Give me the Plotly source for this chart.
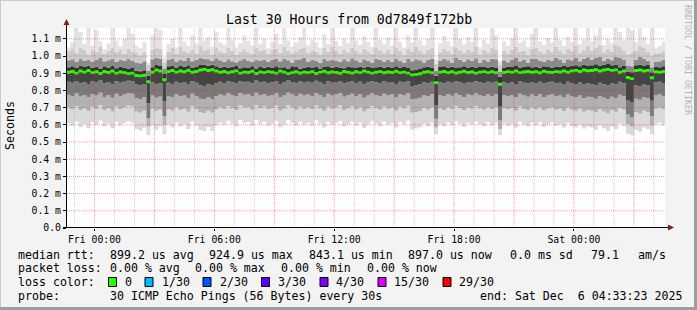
import plotly.graph_objects as go
import pandas as pd

# ---------------- data (microseconds) ----------------
title_text = "Last 30 Hours from 0d7849f172bb"
col_start = "2025-12-04 22:36:00"
step_minutes = 12
x_start = "2025-12-04 22:37:30"
x_end = "2025-12-06 04:33:23"
tick_times = ["2025-12-05 00:00", "2025-12-05 06:00", "2025-12-05 12:00",
              "2025-12-05 18:00", "2025-12-06 00:00"]
y_tick_vals = [0.0, 0.1, 0.2, 0.3, 0.4, 0.5, 0.6, 0.7, 0.8, 0.9, 1.0, 1.1]
y_tick_text = ["0.0", "0.1 m", "0.2 m", "0.3 m", "0.4 m", "0.5 m", "0.6 m",
               "0.7 m", "0.8 m", "0.9 m", "1.0 m", "1.1 m"]

med_us = [905, 910, 900, 912, 906, 915, 903, 908, 898, 910, 904, 912, 900, 907, 903, 897, 900, 886, 884, 888, 850, 905, 918, 912, 862,
          910, 915, 906, 912, 908, 917, 905, 910, 918, 922, 915, 920, 912, 905, 910, 902, 908, 913, 900, 906, 904, 911, 898, 907, 903,
          909, 905, 900, 912, 906, 897, 903, 908, 901, 906, 903, 909, 898, 906, 911, 902, 907, 904, 899, 910, 905, 901, 908, 903, 912,
          906, 900, 905, 909, 902, 907, 904, 911, 903, 906, 900, 890, 893, 896, 905, 908, 902, 845, 906, 910, 903, 908, 901, 905, 911,
          904, 907, 900, 906, 909, 903, 908, 902, 835, 904, 909, 906, 912, 903, 907, 910, 905, 908, 902, 911, 906, 904, 909, 907, 912,
          905, 913, 916, 910, 918, 914, 915, 920, 912, 918, 922, 916, 919, 905, 912, 875, 868, 915, 918, 912, 916, 873, 908, 905, 910]

mx_us = [1050, 1080, 1163, 1140, 1070, 1163, 1060, 1150, 1085, 1040, 1075, 1163, 1090, 1055, 1100, 1163, 1130, 1060, 1045, 1080, 960, 1120, 1163, 1150, 990,
         1070, 1100, 1050, 1163, 1085, 1060, 1120, 1075, 1163, 1090, 1110, 1055, 1140, 1080, 1065, 1163, 1095, 1050, 1075, 1120, 1088, 1060, 1163, 1072, 1100,
         1045, 1085, 1130, 1068, 1163, 1090, 1055, 1078, 1110, 1163, 1062, 1095, 1080, 1050, 1125, 1070, 1163, 1088, 1058, 1102, 1075, 1163, 1090, 1066, 1115,
         1080, 1052, 1163, 1095, 1070, 1108, 1060, 1163, 1085, 1048, 1120, 1078, 1163, 1092, 1062, 1100, 1163, 980, 1074, 1118, 1086, 1056, 1163, 1098, 1068,
         1110, 1082, 1163, 1050, 1094, 1073, 1163, 1120, 970, 1088, 1060, 1102, 1163, 1076, 1090, 1052, 1130, 1163, 1084, 1066, 1105, 1078, 1163, 1092, 1058,
         1112, 1080, 1163, 1070, 1098, 1163, 1086, 1120, 1163, 1064, 1100, 1075, 1163, 1140, 1090, 1163, 1150, 1080, 1163, 1110, 1070, 1163, 1045, 1060, 1085]

h3_us = [1030, 1045, 1020, 1050, 1035, 1010, 1040, 1025, 1055, 1015, 1030, 1048, 1022, 1038, 1012, 1044, 1028, 1018, 1005, 1026, 950, 1035, 1050, 1042, 960,
         1024, 1046, 1012, 1052, 1030, 1020, 1040, 1016, 1058, 1034, 1044, 1010, 1050, 1028, 1018, 1046, 1032, 1008, 1026, 1040, 1022, 1014, 1048, 1030, 1038,
         1012, 1036, 1044, 1020, 1054, 1030, 1016, 1028, 1042, 1050, 1018, 1034, 1026, 1010, 1046, 1024, 1052, 1032, 1014, 1040, 1022, 1048, 1030, 1016, 1042,
         1028, 1012, 1050, 1034, 1020, 1038, 1014, 1046, 1030, 1008, 1042, 1024, 1052, 1032, 1016, 1036, 1048, 955, 1022, 1044, 1030, 1012, 1050, 1034, 1018,
         1040, 1026, 1052, 1010, 1036, 1022, 1048, 1040, 950, 1030, 1014, 1038, 1054, 1024, 1032, 1008, 1044, 1050, 1028, 1016, 1040, 1026, 1056, 1034, 1012,
         1042, 1030, 1058, 1020, 1036, 1060, 1032, 1048, 1062, 1022, 1040, 1026, 1064, 1056, 1034, 1010, 1020, 1030, 1060, 1046, 1024, 1000, 1012, 1018, 1030]

h2_us = [975, 982, 968, 985, 972, 978, 966, 980, 988, 970, 976, 984, 965, 979, 971, 983, 974, 962, 958, 969, 915, 981, 990, 986, 925,
         977, 985, 968, 980, 973, 988, 970, 978, 990, 984, 982, 972, 987, 975, 966, 981, 970, 964, 976, 983, 971, 967, 979, 974, 980,
         966, 978, 984, 970, 986, 975, 963, 977, 982, 988, 968, 980, 973, 961, 985, 971, 979, 974, 965, 982, 970, 987, 976, 964, 981,
         973, 962, 984, 978, 967, 980, 965, 986, 972, 960, 983, 970, 982, 975, 963, 979, 985, 915, 971, 984, 976, 962, 988, 978, 966,
         981, 972, 987, 961, 978, 968, 984, 982, 910, 975, 964, 980, 989, 970, 977, 960, 983, 986, 974, 966, 980, 971, 990, 978, 963,
         982, 976, 991, 969, 984, 993, 978, 988, 995, 972, 986, 975, 996, 992, 980, 945, 940, 977, 994, 985, 973, 935, 966, 970, 980]

h1_us = [935, 940, 930, 942, 936, 944, 932, 938, 928, 940, 934, 943, 929, 937, 933, 927, 931, 915, 912, 918, 885, 935, 948, 942, 895,
         940, 945, 934, 942, 937, 947, 933, 939, 948, 951, 944, 949, 941, 934, 939, 931, 937, 942, 929, 935, 933, 940, 927, 936, 932,
         938, 934, 941, 930, 935, 928, 941, 936, 926, 932, 937, 933, 939, 928, 936, 940, 932, 937, 934, 929, 939, 935, 931, 938, 933,
         936, 930, 935, 939, 932, 937, 934, 941, 933, 936, 930, 918, 921, 925, 935, 938, 932, 885, 936, 940, 933, 938, 931, 935, 941,
         934, 937, 930, 936, 939, 933, 938, 931, 880, 934, 939, 936, 942, 933, 937, 940, 935, 938, 932, 941, 936, 934, 939, 937, 942,
         936, 944, 947, 940, 950, 945, 946, 952, 943, 949, 954, 947, 951, 935, 943, 910, 905, 946, 950, 942, 948, 905, 938, 935, 940]

l1_us = [850, 845, 855, 842, 848, 838, 852, 846, 858, 840, 849, 836, 853, 844, 850, 856, 852, 835, 832, 838, 725, 846, 835, 840, 735,
         845, 838, 851, 842, 847, 834, 853, 844, 830, 826, 836, 828, 842, 850, 843, 854, 846, 840, 855, 848, 850, 841, 857, 846, 851,
         843, 848, 855, 838, 846, 857, 849, 842, 852, 845, 850, 844, 856, 846, 838, 852, 845, 849, 855, 840, 847, 852, 843, 850, 836,
         846, 853, 848, 842, 852, 845, 849, 838, 851, 846, 854, 826, 830, 836, 848, 842, 850, 715, 847, 841, 850, 844, 853, 848, 839,
         849, 845, 853, 847, 842, 851, 844, 850, 705, 848, 843, 847, 838, 852, 845, 840, 849, 843, 851, 840, 846, 850, 842, 845, 838,
         850, 842, 838, 846, 835, 840, 838, 832, 845, 836, 828, 840, 834, 850, 842, 745, 730, 830, 826, 838, 832, 740, 846, 850, 843]

l2_us = [775, 768, 782, 765, 772, 760, 779, 770, 786, 762, 774, 758, 780, 768, 776, 784, 780, 755, 750, 760, 640, 770, 758, 765, 650,
         768, 760, 778, 764, 771, 756, 781, 768, 752, 748, 760, 750, 766, 777, 769, 783, 772, 764, 785, 775, 778, 765, 787, 772, 779,
         768, 774, 784, 760, 771, 786, 776, 766, 780, 770, 777, 768, 785, 772, 760, 780, 770, 776, 784, 763, 773, 781, 767, 778, 758,
         771, 782, 774, 766, 780, 770, 776, 760, 779, 771, 783, 748, 752, 758, 774, 766, 778, 635, 773, 764, 778, 769, 782, 774, 762,
         776, 770, 782, 773, 766, 779, 768, 777, 625, 774, 767, 772, 760, 780, 770, 763, 776, 767, 779, 762, 771, 777, 766, 770, 759,
         776, 765, 760, 770, 756, 763, 760, 752, 768, 757, 748, 763, 755, 775, 766, 660, 645, 752, 746, 760, 754, 650, 770, 776, 768]

l3_us = [700, 690, 710, 686, 695, 680, 705, 692, 715, 684, 698, 678, 706, 690, 700, 712, 706, 676, 670, 682, 590, 694, 680, 688, 600,
         690, 682, 702, 686, 694, 676, 708, 690, 672, 668, 682, 670, 688, 702, 692, 710, 696, 686, 712, 700, 704, 688, 714, 696, 706,
         690, 698, 712, 682, 694, 714, 700, 688, 706, 694, 702, 690, 713, 696, 682, 706, 694, 700, 712, 684, 697, 708, 689, 704, 678,
         694, 710, 698, 688, 706, 694, 700, 682, 705, 695, 711, 670, 674, 680, 698, 688, 704, 585, 697, 686, 704, 692, 709, 698, 684,
         700, 693, 708, 697, 688, 704, 690, 702, 575, 698, 689, 696, 682, 706, 693, 685, 701, 690, 704, 684, 695, 702, 688, 694, 680,
         700, 688, 682, 694, 676, 686, 682, 672, 690, 678, 668, 686, 676, 698, 688, 605, 590, 672, 665, 682, 674, 595, 694, 700, 690]

mn_us = [610, 595, 620, 588, 605, 580, 615, 600, 625, 590, 608, 578, 618, 596, 610, 622, 612, 575, 565, 585, 540, 598, 572, 590, 545,
         602, 585, 612, 590, 604, 575, 620, 596, 570, 562, 588, 566, 598, 614, 600, 624, 606, 592, 628, 610, 616, 594, 630, 604, 618,
         596, 608, 624, 586, 602, 628, 610, 594, 618, 600, 612, 596, 626, 606, 585, 618, 600, 610, 624, 590, 604, 620, 594, 614, 582,
         602, 622, 606, 592, 618, 600, 610, 585, 616, 602, 624, 572, 578, 586, 606, 592, 614, 545, 604, 590, 614, 598, 620, 606, 588,
         610, 600, 620, 604, 592, 616, 596, 612, 540, 606, 594, 604, 585, 618, 600, 590, 612, 596, 616, 588, 602, 614, 594, 604, 584,
         610, 592, 586, 602, 578, 590, 585, 572, 598, 580, 565, 590, 576, 608, 594, 548, 540, 570, 560, 585, 575, 545, 604, 612, 598]

loss_labels = ["0", "1/30", "2/30", "3/30", "4/30", "15/30", "29/30"]
loss_colors = ["#26ff00", "#00b8ff", "#0059ff", "#5e00ff", "#7e00ff", "#dd00ff", "#ff0000"]

legend_rows = [
    [("median rtt:", 16), ("899.2 us avg", 107.6), ("924.9 us max", 207), ("843.1 us min", 306.7),
     ("897.0 us now", 406), ("0.0 ms sd", 507.6), ("79.1", 589), ("am/s", 635.6)],
    [("packet loss:", 16), ("0.00 % avg", 107.6), ("0.00 % max", 193.3), ("0.00 % min", 279),
     ("0.00 % now", 365)],
    [("loss color:", 16)],
    [("probe:", 16), ("30 ICMP Echo Pings (56 Bytes) every 30s", 107.6),
     ("end: Sat Dec\u00a0\u00a06 04:33:23 2025", 478)],
]

# ---------------- geometry helpers ----------------
W, H = 697, 310
L, R, T, B = 67, 665, 28, 228
MONO = "DejaVu Sans Mono"


def px(x):
    return (x - L) / (R - L)


def py(y):
    return (B - y) / (B - T)


n = len(med_us)
edges = pd.date_range(col_start, periods=n + 1, freq=f"{step_minutes}min")


def ms(arr):
    v = [a / 1000.0 for a in arr]
    return v + [v[-1]]


fig = go.Figure()

levels = [mn_us, l3_us, l2_us, l1_us, med_us, h1_us, h2_us, h3_us, mx_us]
band_colors = ["#dadada", "#b1b1b1", "#7a7a7a", "#444444", "#323232",
               "#8a8a8a", "#cbcbcb", "#e3e3e3"]

for k, arr in enumerate(levels):
    fig.add_trace(go.Scatter(
        x=edges, y=ms(arr), mode="lines", line=dict(width=0, shape="hv"),
        fill=None if k == 0 else "tonexty",
        fillcolor=None if k == 0 else band_colors[k - 1],
        hoverinfo="skip", showlegend=False))

# median marks (loss colour 0)
fig.add_trace(go.Scatter(x=edges, y=[v - 0.008 for v in ms(med_us)], mode="lines",
                         line=dict(width=0, shape="hv"), hoverinfo="skip", showlegend=False))
fig.add_trace(go.Scatter(x=edges, y=[v + 0.009 for v in ms(med_us)], mode="lines",
                         line=dict(width=0, shape="hv"), fill="tonexty",
                         fillcolor=loss_colors[0], hoverinfo="skip", showlegend=False))

shapes = []
# grid (drawn over the smoke)
for h in pd.date_range("2025-12-04 23:00", "2025-12-06 04:00", freq="1h"):
    major = (h.hour % 3 == 0)
    shapes.append(dict(type="line", xref="x", yref="paper", x0=h, x1=h, y0=0, y1=1,
                       layer="above",
                       line=dict(color="rgba(235,40,40,0.45)" if major else "rgba(130,130,130,0.4)",
                                 width=1, dash="1px,1px")))
for v in y_tick_vals[1:]:
    shapes.append(dict(type="line", xref="paper", yref="y", x0=0, x1=1, y0=v, y1=v,
                       layer="above",
                       line=dict(color="rgba(235,40,40,0.45)", width=1, dash="1px,1px")))

# axes lines + arrows
shapes.append(dict(type="line", xref="paper", yref="paper", x0=px(66.5), x1=px(66.5),
                   y0=py(228), y1=py(22), line=dict(color="black", width=1), layer="above"))
shapes.append(dict(type="line", xref="paper", yref="paper", x0=px(63), x1=px(669),
                   y0=py(227.5), y1=py(227.5), line=dict(color="black", width=1), layer="above"))
shapes.append(dict(type="path", xref="paper", yref="paper", layer="above",
                   path=f"M {px(66.5)},{py(19)} L {px(63.5)},{py(25)} L {px(69.5)},{py(25)} Z",
                   fillcolor="#8b1a1a", line=dict(width=0)))
shapes.append(dict(type="path", xref="paper", yref="paper", layer="above",
                   path=f"M {px(674)},{py(227.5)} L {px(668)},{py(224.5)} L {px(668)},{py(230.5)} Z",
                   fillcolor="#8b1a1a", line=dict(width=0)))

# frame
shapes.append(dict(type="line", xref="paper", yref="paper", x0=px(0), x1=px(697),
                   y0=py(0.5), y1=py(0.5), line=dict(color="#cbcbcb", width=1)))
shapes.append(dict(type="line", xref="paper", yref="paper", x0=px(0.5), x1=px(0.5),
                   y0=py(0), y1=py(310), line=dict(color="#cbcbcb", width=1)))
shapes.append(dict(type="line", xref="paper", yref="paper", x0=px(0), x1=px(697),
                   y0=py(308.5), y1=py(308.5), line=dict(color="#9d9d9d", width=3)))
shapes.append(dict(type="line", xref="paper", yref="paper", x0=px(695.5), x1=px(695.5),
                   y0=py(0), y1=py(310), line=dict(color="#9d9d9d", width=3)))

# loss colour boxes
box_x = [108.5, 145, 203, 261.5, 320, 378, 443]
label_x = [123, 160, 218, 276, 334.2, 392, 457]
for bx, c in zip(box_x, loss_colors):
    shapes.append(dict(type="rect", xref="paper", yref="paper",
                       x0=px(bx), x1=px(bx + 8), y0=py(277.5), y1=py(286.5),
                       fillcolor=c, line=dict(color="black", width=1)))

annotations = []


def text(s, x, y, size=11.6, color="black", xanchor="left", angle=0):
    annotations.append(dict(text=s, x=px(x), y=py(y), xref="paper", yref="paper",
                            xanchor=xanchor, yanchor="middle", showarrow=False,
                            textangle=angle, font=dict(family=MONO, size=size, color=color)))


text(title_text, 348.5, 19.5, size=13.2, xanchor="center")
text("Seconds", 10, 126, size=11.6, xanchor="center", angle=-90)
text("RRDTOOL / TOBI OETIKER", 688, 60, size=8.3, color="#b4b4b4", xanchor="center", angle=90)

row_y = [254.5, 268.2, 282, 296]
for row, yy in zip(legend_rows, row_y):
    for s, xx in row:
        text(s, xx, yy)
for lab, lx in zip(loss_labels, label_x):
    text(lab, lx, row_y[2])

fig.update_layout(
    width=W, height=H, autosize=False,
    margin=dict(l=L, r=W - R, t=T, b=H - B, pad=0),
    paper_bgcolor="#f3f3f3", plot_bgcolor="white",
    showlegend=False, shapes=shapes, annotations=annotations,
    font=dict(family=MONO, size=9.8, color="black"),
)
fig.update_xaxes(type="date", range=[x_start, x_end], tickvals=pd.to_datetime(tick_times),
                 tickformat="%a %H:%M", showgrid=False, zeroline=False, showline=False,
                 ticks="outside", ticklen=2, tickcolor="black",
                 tickfont=dict(family=MONO, size=9.8, color="black"))
fig.update_yaxes(range=[0, 1.163], tickvals=y_tick_vals, ticktext=y_tick_text,
                 showgrid=False, zeroline=False, showline=False,
                 ticks="outside", ticklen=3, tickcolor="black",
                 tickfont=dict(family=MONO, size=9.8, color="black"))

fig.write_html("out.html", config={"displayModeBar": False})
